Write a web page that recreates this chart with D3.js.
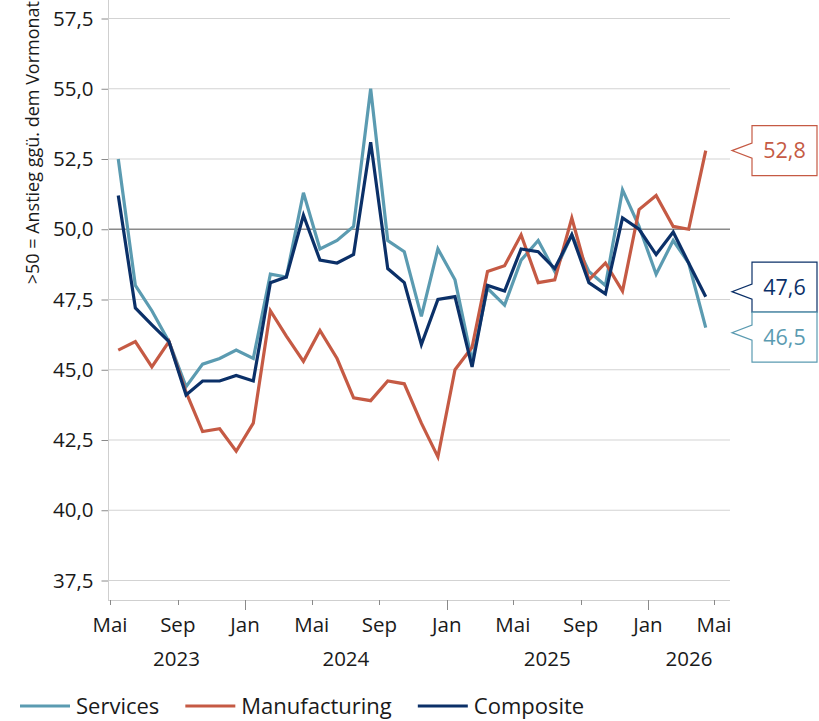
<!DOCTYPE html>
<html><head><meta charset="utf-8">
<script src="https://cdn.jsdelivr.net/npm/d3@7"></script>
<style>
body{margin:0;background:#fff}
text{font-family:"Open Sans","Noto Sans",sans-serif;fill:#1a1a1a}
</style>
</head><body><svg id="c" width="819" height="721"></svg>
<script>
// ---- data (France HCOB PMI) ----
const months = ["2023-05","2023-06","2023-07","2023-08","2023-09","2023-10","2023-11","2023-12",
  "2024-01","2024-02","2024-03","2024-04","2024-05","2024-06","2024-07","2024-08","2024-09","2024-10","2024-11","2024-12",
  "2025-01","2025-02","2025-03","2025-04","2025-05","2025-06","2025-07","2025-08","2025-09","2025-10","2025-11","2025-12",
  "2026-01","2026-02","2026-03","2026-04"];
const services = [52.5,48.0,47.1,46.0,44.4,45.2,45.4,45.7,45.4,48.4,48.3,51.3,49.3,49.6,50.1,55.0,49.6,49.2,46.9,49.3,
  48.2,45.3,47.9,47.3,48.9,49.6,48.5,49.8,48.5,48.0,51.4,50.1,48.4,49.6,48.8,46.5];
const manufacturing = [45.7,46.0,45.1,46.0,44.2,42.8,42.9,42.1,43.1,47.1,46.2,45.3,46.4,45.4,44.0,43.9,44.6,44.5,43.1,41.9,
  45.0,45.8,48.5,48.7,49.8,48.1,48.2,50.4,48.2,48.8,47.8,50.7,51.2,50.1,50.0,52.8];
const composite = [51.2,47.2,46.6,46.0,44.1,44.6,44.6,44.8,44.6,48.1,48.3,50.5,48.9,48.8,49.1,53.1,48.6,48.1,45.9,47.5,
  47.6,45.1,48.0,47.8,49.3,49.2,48.6,49.8,48.1,47.7,50.4,50.0,49.1,49.9,48.8,47.6];
const seriesNames = ["Services","Manufacturing","Composite"];
const seriesColors = ["#5b9bb1","#c55a44","#0b3068"];
const yTicks = [37.5,40,42.5,45,47.5,50,52.5,55,57.5];
const monthNames = {0:"Jan",4:"Mai",8:"Sep"};
const yearLabels = [2023,2024,2025,2026];
const yTitle = ">50 = Anstieg ggü. dem Vormonat";

const seriesValues = [services, manufacturing, composite];
const parse = s => { const [y,m] = s.split("-").map(Number); return new Date(y, m-1, 16); };
const dates = months.map(parse);
const loc = d3.formatLocale({decimal:",",thousands:".",grouping:[3],currency:["","€"]});
const fmt = loc.format(".1f");

const svg = d3.select("#c");
const L = 108, R = 730, T = 0, B = 600;
const x = d3.scaleTime().domain([new Date(2023,4,1), new Date(2026,4,1)]).range([110,714]);
const y = d3.scaleLinear().domain([37.5,57.5]).range([580.5,18.5]);
const FS = 20.5;

// gridlines
svg.append("g").selectAll("line").data(yTicks).join("line")
  .attr("x1",L).attr("x2",R).attr("y1",d=>y(d)).attr("y2",d=>y(d))
  .attr("stroke",d=>d===50?"#8a8a8a":"#d3d3d3").attr("stroke-width",d=>d===50?1.6:1);

// y axis
const yAxis = d3.axisLeft(y).tickValues(yTicks).tickFormat(fmt).tickSize(7).tickPadding(8);
const gy = svg.append("g").attr("transform",`translate(${L+0.5},0)`).call(yAxis);
gy.select(".domain").remove();
gy.selectAll(".tick line").attr("stroke","#8a8a8a");
gy.selectAll(".tick text").attr("font-size",FS).attr("fill","#1a1a1a").style("font-family",'"Open Sans",sans-serif');
svg.append("line").attr("x1",L+0.5).attr("x2",L+0.5).attr("y1",T).attr("y2",B).attr("stroke","#cfcfcf");

// x axis
const xTicks = d3.timeMonth.every(4).range(new Date(2023,4,1), new Date(2026,4,2)).filter(d=>monthNames[d.getMonth()]!==undefined);
svg.append("line").attr("x1",L).attr("x2",R).attr("y1",B+0.5).attr("y2",B+0.5).attr("stroke","#cfcfcf");
const gx = svg.append("g");
gx.selectAll("line").data(xTicks).join("line")
  .attr("x1",d=>Math.round(x(d))+0.5).attr("x2",d=>Math.round(x(d))+0.5)
  .attr("y1",B).attr("y2",d=>B+(d.getMonth()===0?10:5)).attr("stroke","#8a8a8a");
gx.selectAll("text").data(xTicks).join("text")
  .attr("x",d=>x(d)).attr("y",632).attr("text-anchor","middle").attr("font-size",FS)
  .text(d=>monthNames[d.getMonth()]);
svg.append("g").selectAll("text").data(yearLabels).join("text")
  .attr("x",yr=>{const a=Math.max(L,x(new Date(yr,0,1))), b=Math.min(R,x(new Date(yr+1,0,1))); return (a+b)/2;})
  .attr("y",666).attr("text-anchor","middle").attr("font-size",FS).text(d=>d);

// y title
svg.append("text").attr("transform","translate(39,1) rotate(-90)").attr("text-anchor","end")
  .attr("font-size",18).text(yTitle);

// lines
const line = d3.line().x((d,i)=>x(dates[i])).y(d=>y(d));
seriesValues.forEach((vals,k)=>{
  svg.append("path").datum(vals).attr("d",line).attr("fill","none")
    .attr("stroke",seriesColors[k]).attr("stroke-width",3.2).attr("stroke-linejoin","miter");
});

// callouts
const bx = 752, bw = 65, bh = 50, tipX = 732;
let labels = seriesValues.map((vals,k)=>({k, v: vals[vals.length-1], dy: y(vals[vals.length-1])}));
labels.forEach(l=>l.cy=l.dy);
labels.sort((a,b)=>a.cy-b.cy);
for(let it=0; it<50; it++){
  for(let i=1;i<labels.length;i++){
    const ov = bh - (labels[i].cy - labels[i-1].cy);
    if(ov>0){ labels[i].cy += ov/2; labels[i-1].cy -= ov/2; }
  }
}
labels.forEach(l=>{
  const c = seriesColors[l.k];
  const top = l.cy - bh/2, bot = l.cy + bh/2;
  const ty = l.cy + Math.max(-4.5, Math.min(4.5, l.dy - l.cy));
  const p = `M${bx},${top}H${bx+bw}V${bot}H${bx}V${ty+7.5}L${tipX},${ty}L${bx},${ty-7.5}Z`;
  svg.append("path").attr("d",p).attr("fill","#fff").attr("stroke",c).attr("stroke-width",1.2);
  svg.append("text").attr("x",bx+bw/2).attr("y",l.cy).attr("dy","0.35em").attr("text-anchor","middle")
    .attr("font-size",21.5).style("fill",c).text(fmt(l.v));
});

// legend
const lg = svg.append("g").attr("transform","translate(20,706)");
let cx = 0;
seriesNames.forEach((n,k)=>{
  lg.append("line").attr("x1",cx).attr("x2",cx+50).attr("y1",0).attr("y2",0)
    .attr("stroke",seriesColors[k]).attr("stroke-width",3.2);
  const t = lg.append("text").attr("x",cx+56).attr("y",0).attr("dy","0.35em").attr("font-size",22).text(n);
  cx += 56 + t.node().getComputedTextLength() + 26;
});
</script>
</body></html>
